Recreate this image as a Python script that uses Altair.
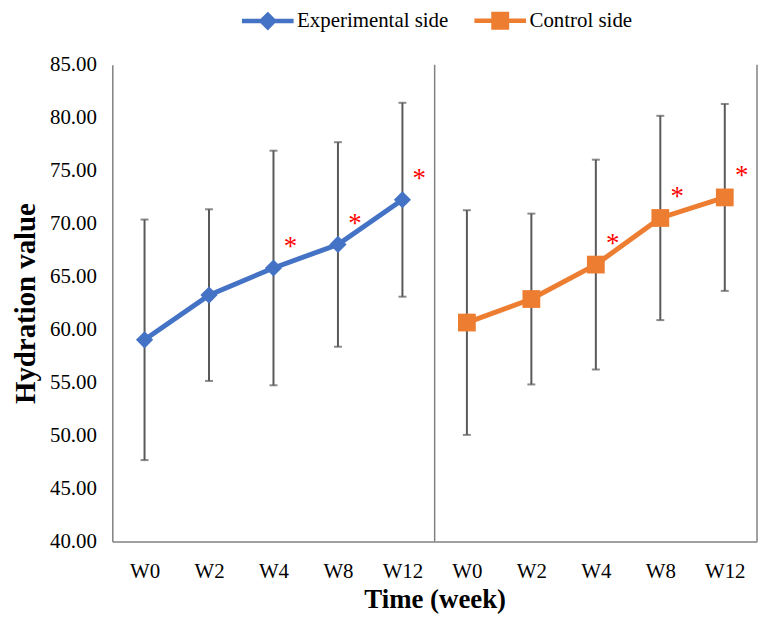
import altair as alt
import pandas as pd

weeks = ["W0", "W2", "W4", "W8", "W12"]
series_names = ["Experimental side", "Control side"]
series_colors = ["#4472C4", "#ED7D31"]
series_shapes = ["diamond", "square"]
exp_mean = [59.03, 63.25, 65.81, 68.03, 72.25]
exp_sd = [11.35, 8.10, 11.07, 9.65, 9.15]
ctrl_mean = [60.66, 62.88, 66.13, 70.53, 72.47]
ctrl_sd = [10.60, 8.06, 9.90, 9.64, 8.82]
significant = [False, False, True, True, True]
y_ticks = [40, 45, 50, 55, 60, 65, 70, 75, 80, 85]

rows = []
for s, (name, means, sds) in enumerate(zip(series_names, [exp_mean, ctrl_mean], [exp_sd, ctrl_sd])):
    for i, wk in enumerate(weeks):
        rows.append(dict(series=name, week=wk, pos=s * len(weeks) + i,
                         mean=means[i], lo=means[i] - sds[i], hi=means[i] + sds[i],
                         star="*" if significant[i] else ""))
df = pd.DataFrame(rows)
dividers = pd.DataFrame({"pos": [len(weeks) - 0.5, 2 * len(weeks) - 0.5]})

FONT = "Liberation Serif"
n = len(weeks)
label_expr = "[" + ",".join("'%s'" % w for w in weeks) + "][datum.value % " + str(n) + "]"

xscale = alt.Scale(domain=[-0.5, 2 * n - 0.5], nice=False, zero=False)
yscale = alt.Scale(domain=[40, 85], nice=False, zero=False)

x_axis = alt.Axis(values=list(range(2 * n)), labelExpr=label_expr, grid=False, ticks=False,
                  domainColor="#808080", domainWidth=1.5, labelFont=FONT, labelFontSize=21,
                  labelColor="black", labelPadding=19, title="Time (week)", titleFont=FONT,
                  titleFontSize=27, titleFontWeight="bold", titleColor="black", titlePadding=5)
y_axis = alt.Axis(values=y_ticks, format=".2f", grid=False, ticks=False,
                  domainColor="#808080", domainWidth=1.5, labelFont=FONT, labelFontSize=21,
                  labelColor="black", labelPadding=16, title="Hydration value", titleFont=FONT,
                  titleFontSize=29, titleFontWeight="bold", titleColor="black", titlePadding=9)

# legend symbols: line segment plus marker, in Vega's [-1, 1] custom-path units
diamond_path = "M-1,0L1,0M0,-0.24L0.24,0L0,0.24L-0.24,0Z"
square_path = "M-1,0L1,0M-0.26,-0.26L0.26,-0.26L0.26,0.26L-0.26,0.26Z"

legend = alt.Legend(orient="none", legendX=128, legendY=-73, direction="horizontal", title=None,
                    labelFont=FONT, labelFontSize=21, labelColor="black", symbolSize=2704,
                    symbolOpacity=1, symbolStrokeWidth=4.5, columnPadding=16, labelOffset=1)

sdomain = series_names
legend_layer = alt.Chart(df).mark_point(filled=True, opacity=0, size=2704, strokeWidth=4.5).encode(
    x=alt.X("pos:Q", scale=xscale),
    y=alt.Y("mean:Q", scale=yscale),
    fill=alt.Fill("series:N", scale=alt.Scale(domain=sdomain, range=series_colors), legend=legend),
    stroke=alt.Stroke("series:N", scale=alt.Scale(domain=sdomain, range=series_colors), legend=legend),
    shape=alt.Shape("series:N", scale=alt.Scale(domain=sdomain, range=[diamond_path, square_path]), legend=legend),
)

base = alt.Chart(df)
x = alt.X("pos:Q", scale=xscale, axis=x_axis)

divider_layer = alt.Chart(dividers).mark_rule(color="#808080", strokeWidth=1.5).encode(
    x=alt.X("pos:Q", scale=xscale))

err = base.mark_rule(color="#595959", strokeWidth=2).encode(
    x=x, y=alt.Y("lo:Q", scale=yscale, axis=y_axis), y2="hi:Q")
cap_lo = base.mark_tick(color="#595959", thickness=2, size=8, orient="horizontal").encode(
    x=x, y=alt.Y("lo:Q", scale=yscale))
cap_hi = base.mark_tick(color="#595959", thickness=2, size=8, orient="horizontal").encode(
    x=x, y=alt.Y("hi:Q", scale=yscale))

series_layers = []
for name, col, shp in zip(series_names, series_colors, series_shapes):
    sub = base.transform_filter(alt.datum.series == name)
    series_layers.append(sub.mark_line(strokeWidth=5, color=col).encode(
        x=x, y=alt.Y("mean:Q", scale=yscale)))
for name, col, shp in zip(series_names, series_colors, series_shapes):
    sub = base.transform_filter(alt.datum.series == name)
    series_layers.append(sub.mark_point(filled=True, size=300 if shp == "diamond" else 320,
                                        opacity=1, shape=shp, color=col).encode(
        x=x, y=alt.Y("mean:Q", scale=yscale)))

stars = base.mark_text(color="red", fontSize=27, font=FONT, dx=17, dy=-21, baseline="middle").encode(
    x=x, y=alt.Y("mean:Q", scale=yscale), text="star:N")

chart = alt.layer(err, cap_lo, cap_hi, divider_layer, *series_layers, stars,
                  legend_layer).properties(
    width=649, height=480,
    padding={"left": 105, "top": 55, "right": 2, "bottom": 72},
    autosize=alt.AutoSizeParams(type="none"),
).configure_view(stroke=None)

chart.save("out.html", embed_options={"renderer": "svg", "actions": False})
